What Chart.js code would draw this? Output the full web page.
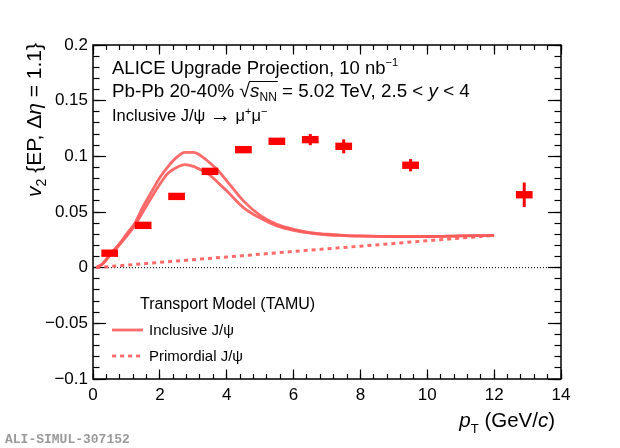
<!DOCTYPE html>
<html>
<head>
<meta charset="utf-8">
<script src="https://cdn.jsdelivr.net/npm/chart.js@4.4.1/dist/chart.umd.min.js"></script>
<style>
  body { margin: 0; background: #fff; }
  #wrap { width: 620px; height: 448px; position: relative; }
</style>
</head>
<body>
<div id="wrap"><canvas id="v2chart"></canvas></div>
<script>
// projected data points (pT in GeV/c, v2, stat error, syst box half height)
const pointPt = [0.5, 1.5, 2.5, 3.5, 4.5, 5.5, 6.5, 7.5, 9.5, 12.9];
const pointV2 = [0.013, 0.038, 0.064, 0.0865, 0.106, 0.1135, 0.115, 0.109, 0.092, 0.0655];
const pointStat = [0.002, 0.002, 0.002, 0.002, 0.002, 0.003, 0.005, 0.0063, 0.0055, 0.011];
const pointSyst = [0.0033, 0.0033, 0.0033, 0.0033, 0.0033, 0.0033, 0.0033, 0.0033, 0.0033, 0.0033];
const pointHalfWidth = 0.25;

// TAMU transport model, inclusive J/psi band (upper and lower edge)
const modelPt = [0.1, 0.3, 0.5, 0.75, 1.0, 1.25, 1.5, 1.75, 2.0, 2.25, 2.5, 2.75, 3.0, 3.25, 3.5, 3.75, 4.0, 4.5, 5.0, 5.5, 6.0, 6.5, 7.0, 7.5, 8.0, 9.0, 10.0, 11.0, 12.0];
const inclUpper = [0.0, 0.004, 0.0117, 0.020, 0.030, 0.040, 0.055, 0.068, 0.081, 0.091, 0.099, 0.1035, 0.1035, 0.100, 0.094, 0.087, 0.078, 0.060, 0.047, 0.039, 0.0345, 0.0315, 0.030, 0.029, 0.0285, 0.028, 0.028, 0.0285, 0.029];
const inclLower = [0.0, 0.0035, 0.0108, 0.019, 0.028, 0.038, 0.0505, 0.063, 0.075, 0.085, 0.090, 0.0925, 0.091, 0.0875, 0.083, 0.076, 0.069, 0.054, 0.0445, 0.0375, 0.0335, 0.031, 0.0295, 0.0288, 0.0283, 0.028, 0.028, 0.0285, 0.029];

// primordial J/psi
const primPt = [0.1, 2, 4, 6, 8, 10, 12];
const primV2 = [0.0, 0.0048, 0.0096, 0.0146, 0.0193, 0.0242, 0.029];

const xTicks = [0, 2, 4, 6, 8, 10, 12, 14];
const yTicks = [-0.1, -0.05, 0, 0.05, 0.1, 0.15, 0.2];
const xMinorStep = 0.4;
const yMinorStep = 0.01;

const FF = "'Liberation Sans', Arial, Helvetica, sans-serif";
const modelColor = 'rgba(255, 90, 90, 0.9)';
const pointColor = '#ff0000';

function xy(xs, ys) {
  return xs.map((x, i) => ({x: x, y: ys[i]}));
}

function minorTicks(min, max, step) {
  const out = [];
  const n = Math.round((max - min) / step);
  for (let k = 0; k <= n; k++) out.push({value: +(min + k * step).toFixed(4)});
  return out;
}

function rich(ctx, x, y, parts, align) {
  let total = 0;
  parts.forEach(p => {
    ctx.font = (p.i ? 'italic ' : '') + p.s + 'px ' + FF;
    p.w = ctx.measureText(p.t).width;
    total += p.w;
  });
  if (align === 'right') x -= total;
  parts.forEach(p => {
    ctx.font = (p.i ? 'italic ' : '') + p.s + 'px ' + FF;
    ctx.fillText(p.t, x, y + (p.dy || 0));
    if (p.ol) {
      ctx.fillRect(x - 1, y - p.ol, p.w + 2, 1);
    }
    x += p.w;
  });
  return total;
}

function segment(ctx, x1, y1, x2, y2) {
  ctx.beginPath();
  ctx.moveTo(x1, y1);
  ctx.lineTo(x2, y2);
  ctx.stroke();
}

// inward tick axes (ROOT style), drawn by Chart.js itself
function tickAxis(axis, position, min, max, ticksFn, len, weight) {
  return {
    type: 'linear',
    axis: axis,
    position: position,
    min: min,
    max: max,
    weight: weight,
    afterBuildTicks: (scale) => { scale.ticks = ticksFn(); },
    afterFit: (scale) => {
      if (axis === 'x') scale.height = 0; else scale.width = 0;
    },
    grid: {display: true, drawOnChartArea: false, drawTicks: true, tickLength: -len, tickColor: '#000', tickWidth: 1.2},
    border: {display: false},
    ticks: {display: false}
  };
}

const rootStyle = {
  id: 'rootStyle',
  beforeDatasetsDraw(chart) {
    const {ctx, chartArea: a, scales: {y}} = chart;
    const y0 = y.getPixelForValue(0);
    ctx.save();
    ctx.strokeStyle = '#000';
    ctx.lineWidth = 1;
    ctx.setLineDash([1, 2]);
    segment(ctx, a.left, y0, a.right, y0);
    ctx.restore();
  },
  afterDatasetsDraw(chart) {
    const {ctx, chartArea: a, scales: {x, y}} = chart;
    ctx.save();
    ctx.setLineDash([]);
    ctx.fillStyle = pointColor;
    ctx.strokeStyle = pointColor;
    pointPt.forEach((pt, i) => {
      const x1 = x.getPixelForValue(pt - pointHalfWidth);
      const x2 = x.getPixelForValue(pt + pointHalfWidth);
      const yTop = y.getPixelForValue(pointV2[i] + pointSyst[i]);
      const yBot = y.getPixelForValue(pointV2[i] - pointSyst[i]);
      ctx.fillRect(x1, yTop, x2 - x1, yBot - yTop);
      const xc = x.getPixelForValue(pt);
      ctx.lineWidth = 3;
      segment(ctx, xc, y.getPixelForValue(pointV2[i] + pointStat[i]), xc, y.getPixelForValue(pointV2[i] - pointStat[i]));
    });
    ctx.strokeStyle = '#000';
    ctx.lineWidth = 1.5;
    ctx.strokeRect(a.left, a.top, a.right - a.left, a.bottom - a.top);
    ctx.restore();
  },
  afterDraw(chart) {
    const {ctx, chartArea: a} = chart;
    ctx.save();
    ctx.setLineDash([]);
    ctx.fillStyle = '#000';
    ctx.textBaseline = 'alphabetic';
    ctx.textAlign = 'left';
    // header texts
    rich(ctx, 112, 74, [
      {t: 'ALICE Upgrade Projection, 10 nb', s: 18.5},
      {t: '\u22121', s: 11, dy: -8}
    ]);
    rich(ctx, 112, 97, [
      {t: 'Pb-Pb 20-40% ', s: 18.8},
      {t: '\u221A', s: 19.5},
      {t: 's', s: 18.8, i: true, ol: 16},
      {t: 'NN', s: 12, dy: 4, ol: 16},
      {t: ' = 5.02 TeV, 2.5 < ', s: 18.8},
      {t: 'y', s: 18.8, i: true},
      {t: ' < 4', s: 18.8}
    ]);
    rich(ctx, 112, 121, [
      {t: 'Inclusive J/\u03C8 ', s: 16.5},
      {t: '\u2192', s: 21, dy: 1},
      {t: ' \u03BC', s: 16.5},
      {t: '+', s: 11, dy: -6},
      {t: '\u03BC', s: 16.5},
      {t: '\u2212', s: 11, dy: -6}
    ]);

    // axis titles
    rich(ctx, a.right - 6, 427, [
      {t: 'p', s: 20.5, i: true},
      {t: 'T', s: 13, dy: 6},
      {t: ' (GeV/', s: 20.5},
      {t: 'c', s: 20.5, i: true},
      {t: ')', s: 20.5}
    ], 'right');
    ctx.save();
    ctx.translate(41, 43);
    ctx.rotate(-Math.PI / 2);
    rich(ctx, 0, 0, [
      {t: 'v', s: 21, i: true},
      {t: '2', s: 14, dy: 5},
      {t: ' {EP, \u0394', s: 21},
      {t: '\u03B7', s: 21, i: true},
      {t: ' = 1.1}', s: 21}
    ], 'right');
    ctx.restore();

    // legend
    const ds = chart.data.datasets;
    rich(ctx, 140, 309, [{t: 'Transport Model (TAMU)', s: 16}]);
    ctx.lineWidth = ds[1].borderWidth;
    ctx.strokeStyle = ds[1].borderColor;
    segment(ctx, 112, 330, 143, 330);
    rich(ctx, 149, 335, [{t: 'Inclusive J/\u03C8', s: 15}]);
    ctx.strokeStyle = ds[3].borderColor;
    ctx.setLineDash(ds[3].borderDash);
    segment(ctx, 112, 356, 143, 356);
    ctx.setLineDash([]);
    rich(ctx, 149, 361, [{t: 'Primordial J/\u03C8', s: 15}]);

    // watermark
    ctx.fillStyle = '#9a9a9a';
    ctx.font = "bold 13px 'Liberation Mono', 'DejaVu Sans Mono', monospace";
    ctx.fillText('ALI-SIMUL-307152', 5, 443);
    ctx.restore();
  }
};

function tickLabel(v) {
  const r = +v.toFixed(2);
  if (r === 0) return '0';
  return r < 0 ? '\u2212' + String(-r) : String(r);
}

const xMajor = () => xTicks.map(v => ({value: v}));
const yMajor = () => yTicks.map(v => ({value: v}));
const xMinor = () => minorTicks(0, 14, xMinorStep);
const yMinor = () => minorTicks(-0.1, 0.2, yMinorStep);

new Chart(document.getElementById('v2chart'), {
  type: 'scatter',
  data: {
    datasets: [
      {
        label: 'ALICE Upgrade Projection',
        data: xy(pointPt, pointV2),
        pointRadius: 0,
        showLine: false
      },
      {
        label: 'Inclusive J/\u03C8 (upper)',
        data: xy(modelPt, inclUpper),
        showLine: true,
        borderColor: modelColor,
        borderWidth: 2.8,
        pointRadius: 0,
        cubicInterpolationMode: 'monotone'
      },
      {
        label: 'Inclusive J/\u03C8 (lower)',
        data: xy(modelPt, inclLower),
        showLine: true,
        borderColor: modelColor,
        borderWidth: 2.8,
        pointRadius: 0,
        cubicInterpolationMode: 'monotone'
      },
      {
        label: 'Primordial J/\u03C8',
        data: xy(primPt, primV2),
        showLine: true,
        borderColor: modelColor,
        borderWidth: 3,
        borderDash: [4, 4],
        pointRadius: 0
      }
    ]
  },
  options: {
    responsive: true,
    maintainAspectRatio: false,
    animation: false,
    layout: {padding: {top: 45, right: 59, left: 0, bottom: 0}},
    plugins: {
      legend: {display: false},
      tooltip: {enabled: false}
    },
    scales: {
      x: {
        type: 'linear',
        position: 'bottom',
        weight: 1,
        min: 0,
        max: 14,
        afterBuildTicks: (scale) => { scale.ticks = xMajor(); },
        afterFit: (scale) => { scale.height = 69; },
        grid: {display: true, drawOnChartArea: false, drawTicks: true, tickLength: -9.5, tickColor: '#000', tickWidth: 1.2},
        border: {display: false},
        ticks: {
          color: '#000',
          padding: 15.5,
          font: {family: FF, size: 17},
          maxRotation: 0,
          autoSkip: false,
          callback: (v) => String(v)
        }
      },
      y: {
        type: 'linear',
        position: 'left',
        weight: 1,
        min: -0.1,
        max: 0.2,
        afterBuildTicks: (scale) => { scale.ticks = yMajor(); },
        afterFit: (scale) => { scale.width = 93; },
        grid: {display: true, drawOnChartArea: false, drawTicks: true, tickLength: -13, tickColor: '#000', tickWidth: 1.2},
        border: {display: false},
        ticks: {
          color: '#000',
          padding: 18,
          font: {family: FF, size: 17},
          autoSkip: false,
          callback: tickLabel
        }
      },
      xMinorBottom: tickAxis('x', 'bottom', 0, 14, xMinor, 5, 0),
      xMajorTop: tickAxis('x', 'top', 0, 14, xMajor, 9.5, 1),
      xMinorTop: tickAxis('x', 'top', 0, 14, xMinor, 5, 0),
      yMinorLeft: tickAxis('y', 'left', -0.1, 0.2, yMinor, 6.5, 0),
      yMajorRight: tickAxis('y', 'right', -0.1, 0.2, yMajor, 13, 1),
      yMinorRight: tickAxis('y', 'right', -0.1, 0.2, yMinor, 6.5, 0)
    }
  },
  plugins: [rootStyle]
});
</script>
</body>
</html>
